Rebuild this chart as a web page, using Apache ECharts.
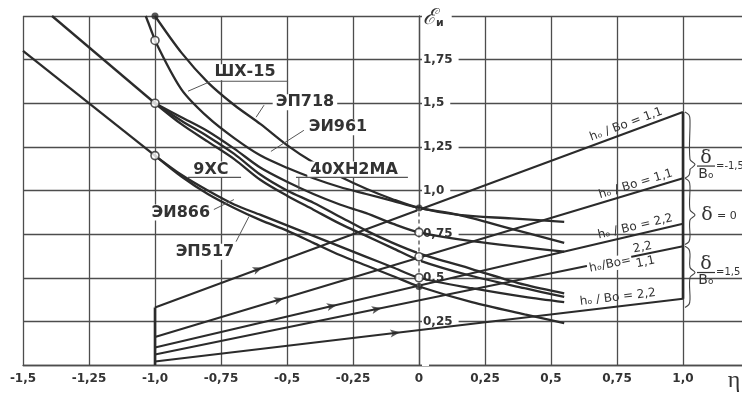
<!DOCTYPE html>
<html><head><meta charset="utf-8">
<script src="https://cdn.jsdelivr.net/npm/echarts@6/dist/echarts.min.js"></script>
<style>html,body{margin:0;padding:0;background:#fff}#c{width:742px;height:393px}</style>
</head><body><div id="c"></div>
<script>
// ---- tick labels ----
const xTicks = [-1.5,-1.25,-1,-0.75,-0.5,-0.25,0,0.25,0.5,0.75,1];
const xTickLabels = ['-1,5','-1,25','-1,0','-0,75','-0,5','-0,25','0','0,25','0,5','0,75','1,0'];
const yTicks = [0.25,0.5,0.75,1,1.25,1.5,1.75];
const yTickLabels = ['0,25','0,5','0,75','1,0','1,25','1,5','1,75'];

// ---- material curves  [eta, eps] ----
const ep718 = [[-1,2.0],[-0.9,1.79],[-0.8,1.62],[-0.7,1.49],[-0.6,1.38],[-0.5,1.26],[-0.4,1.16],[-0.3,1.08],[-0.2,1.01],[-0.1,0.95],[0,0.90],[0.15,0.86],[0.35,0.84],[0.55,0.82]];
const shx15 = [[-1,1.86],[-0.9,1.58],[-0.8,1.42],[-0.7,1.30],[-0.6,1.20],[-0.5,1.13],[-0.4,1.07],[-0.3,1.02],[-0.2,0.98],[-0.1,0.94],[0,0.90],[0.15,0.86],[0.35,0.78],[0.55,0.70]];
const ei961 = [[-1,1.5],[-0.9,1.42],[-0.8,1.34],[-0.7,1.24],[-0.6,1.13],[-0.5,1.05],[-0.4,0.98],[-0.3,0.92],[-0.2,0.87],[-0.1,0.81],[0,0.76],[0.2,0.71],[0.55,0.65]];
const h40 = [[-1,1.5],[-0.9,1.40],[-0.8,1.31],[-0.7,1.21],[-0.6,1.09],[-0.5,1.0],[-0.4,0.93],[-0.3,0.85],[-0.2,0.77],[-0.1,0.70],[0,0.64],[0.2,0.55],[0.4,0.46],[0.55,0.41]];
const x9 = [[-1,1.5],[-0.9,1.38],[-0.8,1.28],[-0.7,1.18],[-0.6,1.06],[-0.5,0.97],[-0.4,0.89],[-0.3,0.81],[-0.2,0.74],[-0.1,0.67],[0,0.60],[0.2,0.51],[0.4,0.44],[0.55,0.39]];
const ei866 = [[-1,1.2],[-0.9,1.09],[-0.8,1.0],[-0.7,0.92],[-0.6,0.86],[-0.5,0.80],[-0.4,0.74],[-0.3,0.68],[-0.2,0.62],[-0.1,0.56],[0,0.50],[0.2,0.44],[0.4,0.39],[0.55,0.36]];
const ep517 = [[-1,1.2],[-0.9,1.08],[-0.8,0.98],[-0.7,0.90],[-0.6,0.83],[-0.5,0.77],[-0.4,0.70],[-0.3,0.63],[-0.2,0.57],[-0.1,0.51],[0,0.45],[0.2,0.36],[0.4,0.29],[0.55,0.24]];
// extrapolated parts
const ext1 = [[-1.5,1.80],[-1,1.2]];
const ext2 = [[-1.39,2.0],[-1,1.5]];
const ext3 = [[-1.035,2.0],[-1,1.86]];
// rising lines
const riseA = [[-1,0.33],[1,1.45]];
const riseB = [[-1,0.16],[1,1.07]];
const riseC = [[-1,0.10],[1,0.81]];
const riseD = [[-1,0.06],[1,0.68]];
const riseE = [[-1,0.02],[1,0.38]];
const edgeLeft = [[-1,0],[-1,0.33]];
const edgeRight = [[1,0.38],[1,1.45]];
const arrowEta = [-0.61,-0.53,-0.33,-0.16,-0.09];
const openPts = [[-1,1.86],[-1,1.5],[-1,1.2],[0,0.76],[0,0.62],[0,0.50]];
const filledPts = [[-1,2.0],[0,0.90],[0,0.45]];
const dashedAxis = [[0,0.45],[0,0.90]];

const INK = '#2b2b2b', GRID = '#4d4d4d';
const X_MIN = -1.5, X_MAX = 1.25, LEFT = 23, RIGHT = -7;
const fmt = (ticks, labels) => v => { const i = ticks.findIndex(t => Math.abs(t - v) < 1e-6); return i < 0 ? '' : labels[i]; };
const line = (data, w, extra) => Object.assign({type:'line', data, symbol:'none', silent:true, lineStyle:{color:INK, width:w}, z:3}, extra || {});

const chart = echarts.init(document.getElementById('c'));
const plotW = 742 - LEFT - RIGHT;
const yAxisOffset = -plotW * (0 - X_MIN) / (X_MAX - X_MIN);
const rises = [riseA, riseB, riseC, riseD, riseE];
const option = {
  animation:false,
  grid:{left:LEFT, right:RIGHT, top:16, bottom:28, containLabel:false, outerBoundsMode:'none'},
  xAxis:{type:'value', min:X_MIN, max:X_MAX, interval:0.25,
    axisLine:{show:true, onZero:false, lineStyle:{color:GRID, width:1.3}}, axisTick:{show:false},
    splitLine:{lineStyle:{color:GRID, width:1.3}},
    axisLabel:{formatter:fmt(xTicks, xTickLabels), color:'#333', fontFamily:'DejaVu Sans', fontWeight:'bold', fontSize:12, margin:8}},
  yAxis:{type:'value', min:0, max:2, interval:0.25, position:'left', offset:yAxisOffset,
    axisLine:{show:true, onZero:false, lineStyle:{color:GRID, width:1.3}}, axisTick:{show:false},
    splitLine:{lineStyle:{color:GRID, width:1.3}},
    axisLabel:{inside:true, margin:3, formatter:fmt(yTicks, yTickLabels), color:'#333', fontFamily:'DejaVu Sans', fontWeight:'bold', fontSize:12, backgroundColor:'#fff', padding:[1,6,1,1]}},
  series:[
    line(ep718,2.3,{smooth:0.3}), line(shx15,2.3,{smooth:0.3}), line(ei961,2.3,{smooth:0.3}),
    line(h40,2.3,{smooth:0.3}), line(x9,2.3,{smooth:0.3}), line(ei866,2.3,{smooth:0.3}), line(ep517,2.3,{smooth:0.3}),
    line(ext1,2.3), line(ext2,2.3), line(ext3,2.3),
    ...rises.map(r => line(r,2.1)),
    line(edgeLeft,2.6), line(edgeRight,2.6),
    line(dashedAxis,4,{lineStyle:{color:'#fff', width:4}, z:4}),
    line(dashedAxis,1.3,{lineStyle:{color:GRID, width:1.3, type:[4,3]}, z:5}),
    {type:'scatter', data:openPts, symbol:'circle', symbolSize:8, silent:true, z:6,
      itemStyle:{color:'#fff', borderColor:INK, borderWidth:1.6}},
    {type:'scatter', data:filledPts, symbol:'circle', symbolSize:7, silent:true, z:6,
      itemStyle:{color:INK}},
    {id:'arrows', type:'scatter', data:[], symbol:'path://M0,0L10,4L0,8L2.5,4Z', symbolSize:[10,8], silent:true, z:6,
      itemStyle:{color:INK}}
  ]
};
chart.setOption(option);

const P = (x, y) => chart.convertToPixel({gridIndex:0}, [x, y]);
const onLine = (r, x) => r[0][1] + (r[1][1] - r[0][1]) * (x - r[0][0]) / (r[1][0] - r[0][0]);
const angleOf = r => { const a = P(r[0][0], r[0][1]), b = P(r[1][0], r[1][1]); return Math.atan2(a[1] - b[1], b[0] - a[0]); };

// arrows
const arrowData = rises.map((r, i) => ({value:[arrowEta[i], onLine(r, arrowEta[i])], symbolRotate: angleOf(r) * 180 / Math.PI}));

const g = [];
const txt = (x, y, text, style, extra) => g.push(Object.assign({type:'text', x, y, z:50,
  style:Object.assign({text, fill:'#333', align:'center', verticalAlign:'middle', font:'12px "DejaVu Sans"'}, style)}, extra || {}));
const seg = (a, b, w) => { const p = P(a[0], a[1]), q = P(b[0], b[1]); g.push({type:'line', z:50, shape:{x1:p[0], y1:p[1], x2:q[0], y2:q[1]}, style:{stroke:'#555', lineWidth:w || 1}}); };

// material labels (annotation positions in data units)
const mats = [
  {t:'ШХ-15', at:[-0.659,1.678], under:[[-0.788,1.626],[-0.496,1.626]], lead:[[-0.788,1.626],[-0.875,1.569]]},
  {t:'ЭП718', at:[-0.432,1.506], lead:[[-0.587,1.489],[-0.617,1.420]]},
  {t:'ЭИ961', at:[-0.307,1.362], lead:[[-0.436,1.345],[-0.561,1.224]]},
  {t:'9ХС', at:[-0.788,1.121], under:[[-0.875,1.075],[-0.674,1.075]]},
  {t:'40ХН2МА', at:[-0.246,1.121], under:[[-0.466,1.075],[-0.042,1.075]], lead:[[-0.455,1.075],[-0.455,0.994]]},
  {t:'ЭИ866', at:[-0.902,0.874], lead:[[-0.777,0.891],[-0.701,0.948]]},
  {t:'ЭП517', at:[-0.811,0.649], lead:[[-0.693,0.707],[-0.644,0.851]]}
];
mats.forEach(m => {
  const p = P(m.at[0], m.at[1]);
  txt(p[0], p[1], m.t, {font:'bold 16px "DejaVu Sans"', fill:'#333', backgroundColor:'#fff', padding:[0,3,0,3]});
  if (m.under) seg(m.under[0], m.under[1], 1.2);
  if (m.lead) seg(m.lead[0], m.lead[1], 1);
});

// labels along rising lines
const along = (r, x, d, text, extraStyle) => {
  const p = P(x, onLine(r, x)), th = angleOf(r);
  const cx = p[0] - d * Math.sin(th), cy = p[1] - d * Math.cos(th);
  txt(cx, cy, text, extraStyle || {}, {rotation: th});
};
along(riseA, 0.795, 8, 'hₒ / Bo = 1,1');
along(riseB, 0.83, 8, 'hₒ / Bo = 1,1');
along(riseC, 0.826, 8, 'hₒ / Bo = 2,2');
along(riseD, 0.72, -3, 'hₒ/Bo=', {backgroundColor:'#fff', padding:[1,1,1,2]});
along(riseD, 0.852, 7, '2,2');
along(riseD, 0.852, -8, '1,1');
along(riseE, 0.757, 9, 'hₒ / Bo = 2,2');

// braces
const brace = (yt, yb, ym) => {
  const t = P(1, yt), b = P(1, yb), m = P(1, ym);
  const x0 = t[0] + 2;
  g.push({type:'polyline', z:50, shape:{smooth:0.35, points:[
    [x0, t[1]], [x0+4, t[1]+3], [x0+5, t[1]+8], [x0+5, m[1]-5], [x0+10, m[1]], [x0+5, m[1]+5], [x0+5, b[1]-8], [x0+4, b[1]-3], [x0, b[1]]]},
    style:{stroke:'#444', lineWidth:1.1, fill:null}});
  return x0 + 12;
};
const frac = (xl, yBar, rhs) => {
  const yb = P(1, yBar)[1];
  txt(xl + 9, yb - 8, 'δ', {font:'19px "DejaVu Serif"'});
  g.push({type:'line', z:50, shape:{x1:xl, y1:yb, x2:xl+18, y2:yb}, style:{stroke:'#333', lineWidth:1.2}});
  txt(xl + 9, yb + 8, 'Bₒ', {font:'14px "DejaVu Sans"'});
  txt(xl + 19, yb, rhs, {font:'10px "DejaVu Sans"', align:'left'});
};
let xl = brace(1.45, 1.07, 1.15); frac(xl, 1.14, '=-1,5');
xl = brace(1.07, 0.69, 0.86);
{ const y = P(1, 0.86)[1]; txt(xl + 10, y, 'δ', {font:'19px "DejaVu Serif"'}); txt(xl + 20, y + 1, '= 0', {font:'11px "DejaVu Sans"', align:'left'}); }
xl = brace(0.68, 0.33, 0.53); frac(xl, 0.53, '=1,5');

// axis names
{ const p = P(0, 2);
  g.push({type:'text', x:p[0]+3, y:p[1]+2, z:50, style:{text:'{e|ℰ}{s|и}', align:'left', verticalAlign:'middle', backgroundColor:'#fff', padding:[0,8,0,1],
    rich:{e:{font:'italic 22px "DejaVu Serif"', fill:'#333'}, s:{font:'bold 11px "DejaVu Sans"', fill:'#333', padding:[10,0,0,0]}}}}); }
txt(734, 381, 'η', {font:'24px "Liberation Serif"'});

chart.setOption({series:[{id:'arrows', data:arrowData}], graphic:{elements:g}});
</script></body></html>
